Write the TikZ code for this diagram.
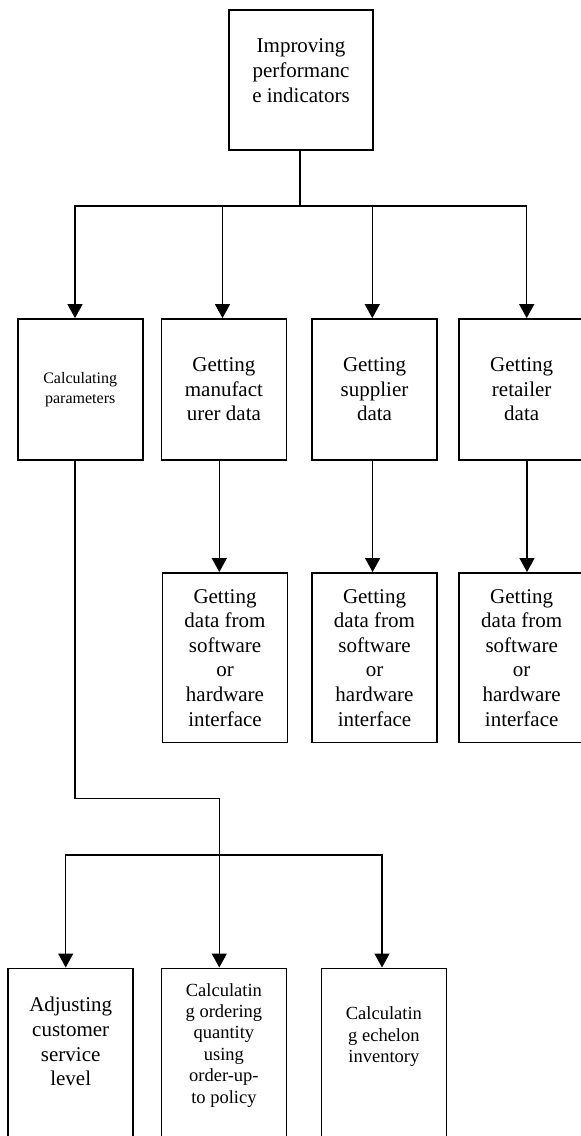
\documentclass[tikz,border=0pt]{standalone}
\usepackage{fontspec}
\setmainfont{Liberation Serif}
\usetikzlibrary{arrows.meta}
\tikzset{box/.style = {shape=rectangle,draw,line width=1.8pt,minimum width=125pt,minimum height=141pt,inner sep=0pt,align=center,font=\fontsize{21}{24.6}\selectfont}}
\tikzset{lowbox/.style = {box,minimum height=169.5pt}}
\tikzset{openbox/.style = {box,anchor=north,minimum height=0pt,text depth=250pt}}
\tikzset{small/.style = {font=\fontsize{18.5}{21.4}\selectfont}}
\tikzset{edge/.style = {-{Triangle[length=14pt,width=15pt]},line width=1.3pt}}
\tikzset{link/.style = {line width=1.3pt}}

\begin{document}
\begin{tikzpicture}[x=1pt,y=-1pt]
            \path[use as bounding box] (0,0) rectangle (581,1136);
            \clip (0,0) rectangle (581,1136);

            \node[box,anchor=north,minimum width=144pt,minimum height=0pt,inner ysep=29pt,text depth=19pt] (top) at (301,9) {Improving\\performanc\\e indicators};

            \node[box,font=\fontsize{16}{19.3}\selectfont] (calc) at (80.2,389.5) {Calculating\\parameters};
            \node[box] (manu) at (223.9,389.5) {Getting\\manufact\\urer data};
            \node[box] (supp) at (374.5,389.5) {Getting\\supplier\\data};
            \node[box] (retl) at (521.7,389.5) {Getting\\retailer\\data};

            \node[lowbox] (manuif) at (225,657.7) {Getting\\data from\\software\\or\\hardware\\interface};
            \node[lowbox] (suppif) at (374.5,657.7) {Getting\\data from\\software\\or\\hardware\\interface};
            \node[lowbox] (retlif) at (521.7,657.7) {Getting\\data from\\software\\or\\hardware\\interface};

            \node[openbox,inner ysep=29pt] (adj) at (70.7,967.5) {Adjusting\\customer\\service\\level};
            \node[openbox,small,inner ysep=14.8pt] (ord) at (223.9,967.5) {Calculatin\\g ordering\\quantity\\using\\order-up-\\to policy};
            \node[openbox,small,inner ysep=38.5pt] (ech) at (383.9,967.5) {Calculatin\\g echelon\\inventory};

            \coordinate (bus) at (300,206);
            \coordinate (jog) at (219.3,798.5);
            \coordinate (split) at (219.3,855);

            \draw[link] (top.south -| bus) -- (bus);
            \draw[edge] (bus) -| ([xshift=-5.2pt]calc.north);
            \draw[edge] (bus) -| ([xshift=-1.4pt]manu.north);
            \draw[edge] (bus) -| ([xshift=-2.2pt]supp.north);
            \draw[edge] (bus) -| ([xshift=5pt]retl.north);

            \draw[edge] ([xshift=-4.6pt]manu.south) -- ([xshift=-4.6pt]manu.south |- manuif.north);
            \draw[edge] ([xshift=-1.9pt]supp.south) -- ([xshift=-1.9pt]supp.south |- suppif.north);
            \draw[edge] ([xshift=5.3pt]retl.south) -- ([xshift=5.3pt]retl.south |- retlif.north);

            \draw[edge] ([xshift=-5.2pt]calc.south) |- (jog) -- (jog |- ord.north);
            \draw[edge] (split) -| ([xshift=-5pt]adj.north);
            \draw[edge] (split) -| ([xshift=-1.9pt]ech.north);
\end{tikzpicture}
\end{document}
